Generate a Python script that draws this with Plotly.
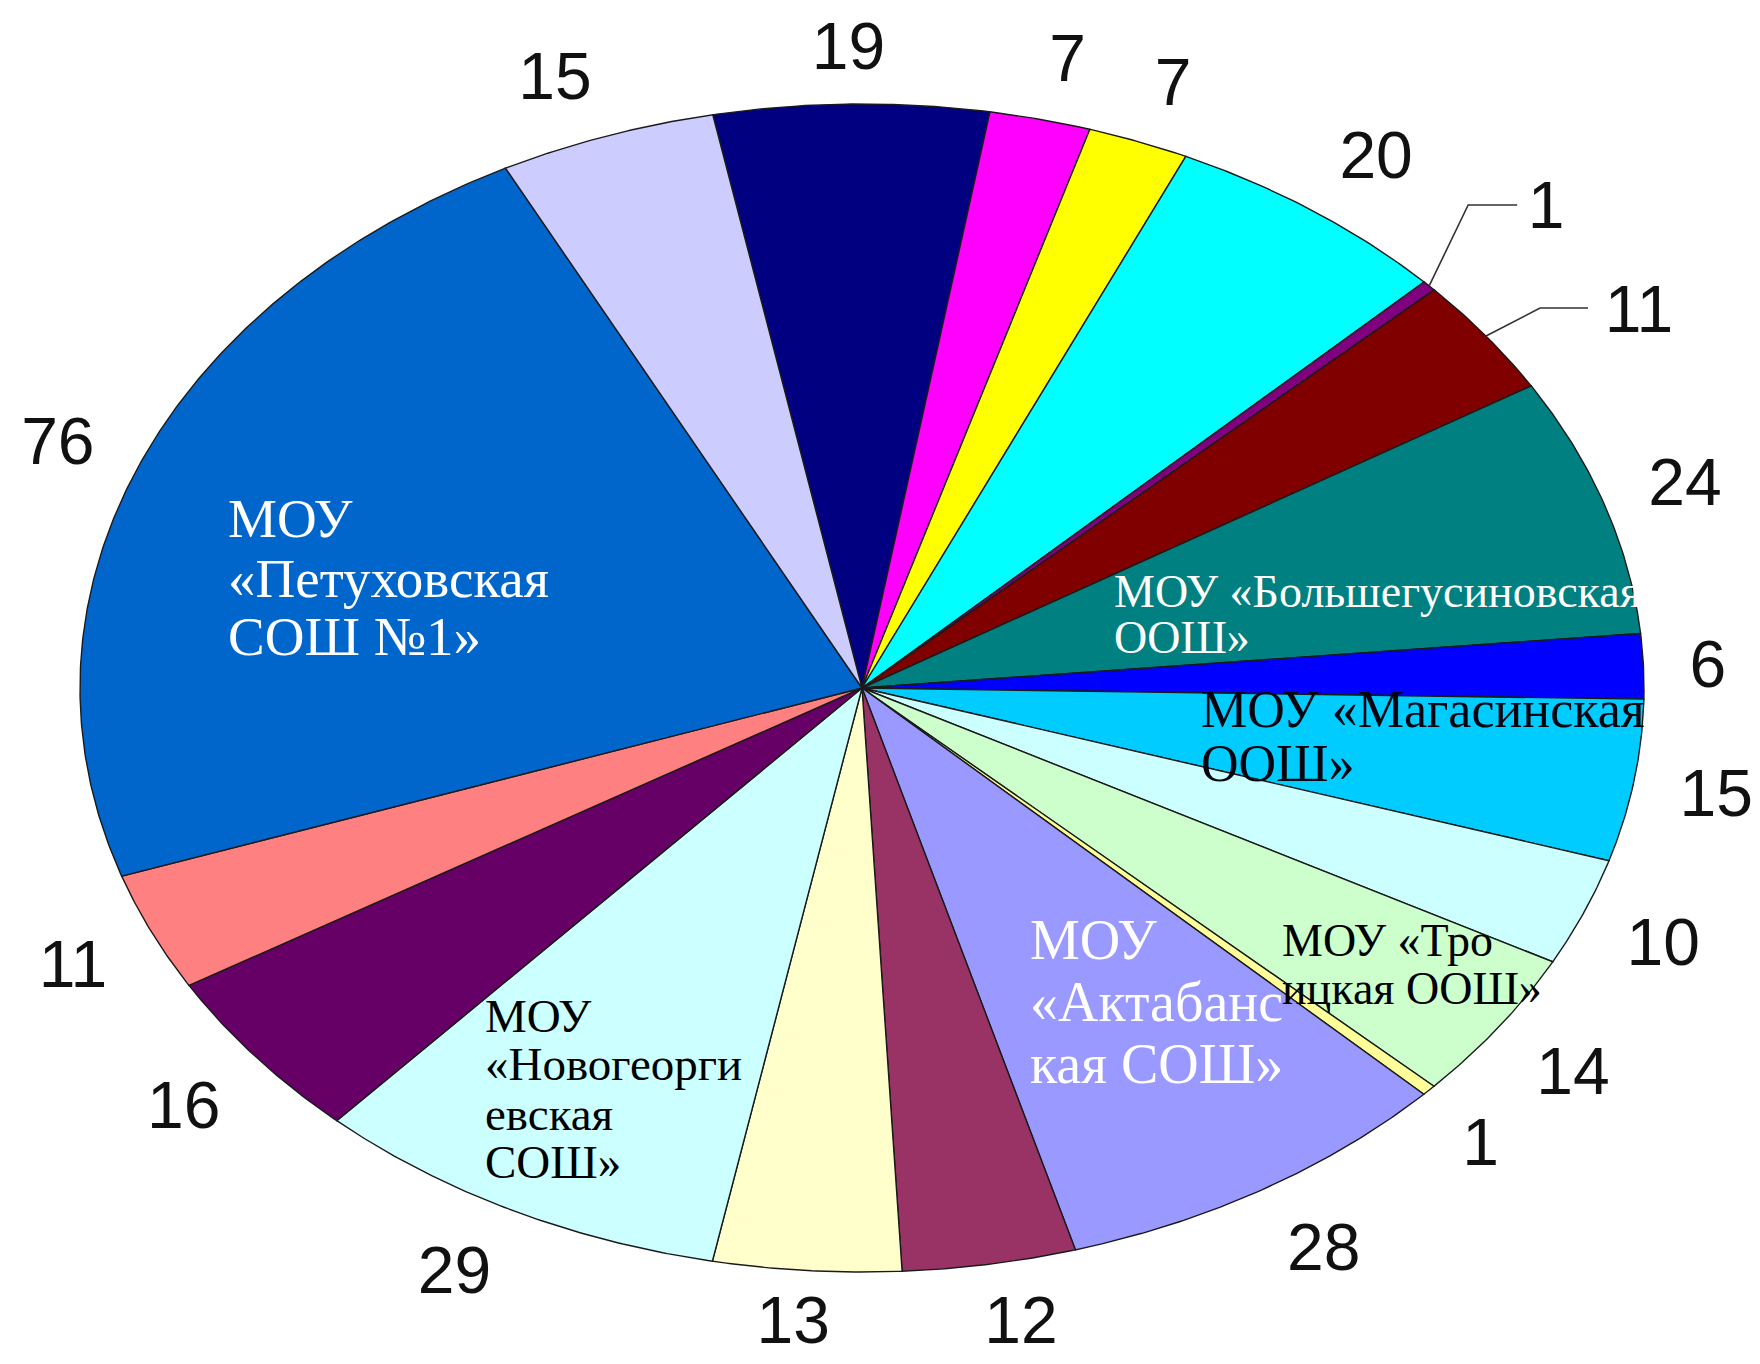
import numpy as np
import plotly.graph_objects as go

# ---------------- data (clockwise from the top) ----------------
values = [19, 7, 7, 20, 1, 11, 24, 6, 15, 10, 14, 1, 28, 12, 13, 29, 16, 11, 76, 15]
colors = ["#000080", "#FF00FF", "#FFFF00", "#00FFFF", "#800080", "#800000",
          "#008080", "#0000FF", "#00CCFF", "#CCFFFF", "#CCFFCC", "#FFFF99",
          "#9999FF", "#993366", "#FFFFCC", "#CCFFFF", "#660066", "#FF8080",
          "#0066CC", "#CCCCFF"]
value_labels = [str(v) for v in values]

# school names written inside some slices (slice index -> text lines)
school_lines = {
    18: ["МОУ", "«Петуховская", "СОШ №1»"],
    6: ["МОУ «Большегусиновская", "ООШ»"],
    8: ["МОУ «Магасинская", "ООШ»"],
    10: ["МОУ «Тро", "ицкая ООШ»"],
    12: ["МОУ", "«Актабанс", "кая СОШ»"],
    15: ["МОУ", "«Новогеорги", "евская", "СОШ»"],
}

# ---------------- layout / style ----------------
W, H = 1760, 1364
OFF = 8                                  # default page margin of the html body
CX, CY, RX, RY = 862, 688, 782, 584      # ellipse geometry (screen pixels)
START = -11.0                            # start angle, degrees clockwise from 12 o'clock
GAP_X, GAP_Y = 46, 38                    # gap between pie edge and value label
TEXT_DY = 7                              # vertical correction of text centring
FS = 66                                  # value label font size
TOP_LIM, BOT_LIM = 52, H - 38            # keep value labels inside the page
NUM_FONT = "Liberation Sans, Arial, sans-serif"
SERIF = "Liberation Serif, Times New Roman, serif"

# style of inner text labels: (colour, size, left x, line centre ys)
school_style = {
    18: ("#FFFFFF", 55, 226, [518, 578, 636]),
    6: ("#FFFFFF", 46, 1112, [591, 637]),
    8: ("#050510", 52, 1199, [709, 763]),
    10: ("#000000", 46, 1280, [940, 988]),
    12: ("#FFFFFF", 56, 1028, [940, 1002, 1064]),
    15: ("#000000", 47, 483, [1016, 1064, 1114, 1162]),
}
# value labels moved away with leader lines: elbow offset, horizontal run, text pad
leaders = {4: ((39, -81), 49, 29), 5: ((54, -28), 48, 51)}


def ell(theta_deg):
    t = np.radians(theta_deg)
    return CX + RX * np.sin(t), CY - RY * np.cos(t)


total = float(sum(values))
fig = go.Figure()

cum = START
mids = []
for v, c in zip(values, colors):
    span = v / total * 360.0
    ts = np.linspace(cum, cum + span, max(4, int(span * 3)))
    ex, ey = ell(ts)
    xs = np.concatenate([[CX], ex, [CX]])
    ys = np.concatenate([[CY], ey, [CY]])
    fig.add_trace(go.Scatter(x=xs, y=ys, mode="lines", fill="toself",
                             fillcolor=c, line=dict(color="#1a1a1a", width=1.4),
                             hoverinfo="skip", showlegend=False))
    mids.append(cum + span / 2)
    cum += span

# value labels
lx, ly = [], []
for i, (m, lab) in enumerate(zip(mids, value_labels)):
    exm, eym = ell(m)
    if i in leaders:
        (dx, dy), run, pad = leaders[i]
        bx, by = exm + dx, eym + dy
        fig.add_trace(go.Scatter(x=[exm, bx, bx + run], y=[eym, by, by], mode="lines",
                                 line=dict(color="#333333", width=1.6),
                                 hoverinfo="skip", showlegend=False))
        lx.append(bx + run + pad)
        ly.append(by + TEXT_DY)
    else:
        hw = len(lab) * 0.556 * FS / 2
        hh = 25
        t = np.radians(m)
        s, c = np.sin(t), np.cos(t)
        xx = exm + s * GAP_X + hw * np.clip(4.0 * s, -1, 1)
        yy = eym - c * GAP_Y - hh * np.clip(1.5 * c, -1, 1) + TEXT_DY
        lx.append(xx)
        ly.append(float(np.clip(yy, TOP_LIM, BOT_LIM)))

fig.add_trace(go.Scatter(x=lx, y=ly, mode="text", text=value_labels,
                         textposition="middle center",
                         textfont=dict(family=NUM_FONT, size=FS, color="#111111"),
                         hoverinfo="skip", showlegend=False, cliponaxis=False))

# inner school names
for idx, lines in school_lines.items():
    col, size, x0, yl = school_style[idx]
    for line, yy in zip(lines, yl):
        fig.add_annotation(x=x0, y=yy, xref="x", yref="y", text=line,
                           showarrow=False, xanchor="left", yanchor="middle",
                           font=dict(family=SERIF, size=size, color=col))

fig.update_layout(
    width=W - OFF, height=H - OFF,
    margin=dict(l=0, r=0, t=0, b=0),
    paper_bgcolor="white", plot_bgcolor="white",
    showlegend=False,
    xaxis=dict(range=[OFF, W], visible=False, fixedrange=True),
    yaxis=dict(range=[H, OFF], visible=False, fixedrange=True),
)

fig.write_html("out.html")
